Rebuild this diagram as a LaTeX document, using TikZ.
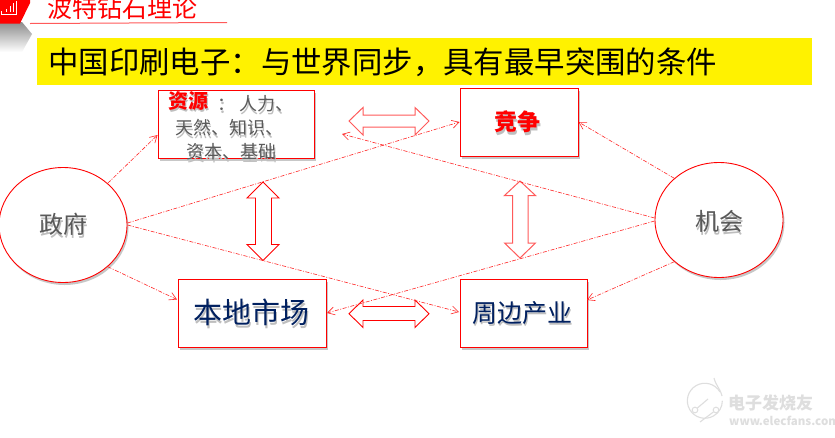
\documentclass[tikz,border=0pt]{standalone}
\usepackage{fontspec}
\setmainfont{Noto Sans CJK SC}
\usetikzlibrary{arrows.meta,shadows,fadings,calc}
\definecolor{rd}{RGB}{255,0,0}
\definecolor{lrd}{RGB}{255,90,90}
\definecolor{navy}{RGB}{0,32,96}
\definecolor{gtx}{RGB}{90,90,90}
\definecolor{shd}{RGB}{190,190,190}
\newcommand{\shtext}[1]{\leavevmode\rlap{\kern1.5pt\raisebox{-2.5pt}{\color{shd}#1}}#1}
\tikzset{
 x=1pt,y=-1pt,
 softshadow/.style={drop shadow={shadow xshift=1.5pt,shadow yshift=-2.5pt,fill=black,opacity=.22}},
 boxn/.style={draw=rd,line width=1pt,fill=white,softshadow,inner sep=0pt,anchor=north west},
 oval/.style={draw=rd,line width=.9pt,fill=white,ellipse shape,softshadow},
 ellipse shape/.style={shape=ellipse},
 link/.style={draw=rd!85,line width=.6pt,dash pattern=on 4pt off 1.5pt on 1pt off 1.5pt,-{Straight Barb[length=7pt,width=8pt,line width=.6pt]}},
 dbl/.style={draw=rd,line width=.9pt,fill=white,line join=miter},
 dbll/.style={draw=lrd,line width=1pt,fill=white,line join=miter}
}
\usetikzlibrary{shapes.geometric}
\begin{document}
\begin{tikzpicture}
\useasboundingbox (0,0) rectangle (835,437);
\fill[white] (0,0) rectangle (835,437);
% corner badge shadow
\shade[top color=black!45,bottom color=white,draw=none] (0,22) -- (22,22) -- (32,34) -- (22,52) -- (0,52) -- cycle;
\node[draw=none,fill=rd,inner sep=0pt,minimum size=0pt] (badge) at (0,0) {};
\fill[rd] (0,0) -- (30,0) -- (30,3) -- (20,23.5) -- (0,23.5) -- cycle;
\draw[white,line width=1pt] (1,11) -- (1,14) -- (16,14) -- (16,1);
\draw[white,line width=1pt] (6,9) -- (6,12) (10,6) -- (10,12) (13,3) -- (13,12);
% heading
\node[anchor=west,inner sep=0pt,text=rd,font=\fontsize{25}{25}\selectfont] (head) at (47,8) {波特钻石理论};
\coordinate (ula) at (30,23.5);
\coordinate (ulb) at (227,22.5);
\draw[lrd,line width=1pt] (ula) -- (ulb);
% yellow bar
\node[anchor=north west,fill=yellow,minimum width=775pt,minimum height=47pt,inner sep=0pt] (bar) at (37,38) {};
\node[anchor=west,inner sep=0pt,font=\fontsize{30.4}{30}\selectfont] (title) at (48,62) {中国印刷电子：与世界同步，具有最早突围的条件};
% boxes
\node[boxn,minimum width=156pt,minimum height=68pt] (res) at (157.5,89.5) {};
\node[boxn,minimum width=118pt,minimum height=68pt] (comp) at (459.5,87.5) {};
\node[boxn,minimum width=148pt,minimum height=68pt] (mkt) at (177.5,278.5) {};
\node[boxn,minimum width=127pt,minimum height=68pt] (sup) at (459.5,278.5) {};
% ovals
\node[oval,minimum width=128pt,minimum height=115pt,inner sep=0pt] (gov) at (63,225) {};
\node[oval,minimum width=128pt,minimum height=115pt,inner sep=0pt] (opp) at (719,220) {};
% box texts
\node[anchor=west,inner sep=0pt,font=\fontsize{20}{20}\bfseries\selectfont,text=rd] (t1a) at (168,102) {\shtext{资源}};
\node[anchor=west,inner sep=0pt,font=\fontsize{18}{18}\selectfont,text=gtx] (t1b) at (217,105) {\shtext{：\kern4pt 人力、}};
\node[anchor=west,inner sep=0pt,font=\fontsize{18}{18}\selectfont,text=gtx] (t2) at (175,129) {\shtext{天然、知识、}};
\node[anchor=west,inner sep=0pt,font=\fontsize{18}{18}\selectfont,text=gtx] (t3) at (186,153) {\shtext{资本、基础}};
\node[inner sep=0pt,font=\fontsize{23}{23}\bfseries\selectfont,text=rd] (t4) at (517,123) {\shtext{竞争}};
\node[inner sep=0pt,font=\fontsize{29}{29}\selectfont,text=navy] (t5) at (251,314) {\shtext{本地市场}};
\node[inner sep=0pt,font=\fontsize{25}{25}\selectfont,text=navy] (t6) at (522,314) {\shtext{周边产业}};
\node[inner sep=0pt,font=\fontsize{24}{24}\selectfont,text=gtx] (t7) at (63,226) {\shtext{政府}};
\node[inner sep=0pt,font=\fontsize{24}{24}\selectfont,text=gtx] (t8) at (719,223) {\shtext{机会}};
% double arrows
\draw[dbl] (263,182) -- (279,198) -- (271.5,198) -- (271.5,244.5) -- (279,244.5) -- (263,260.5) -- (247,244.5) -- (255.5,244.5) -- (255.5,198) -- (247,198) -- cycle;
\draw[dbll] (520,181) -- (535.5,195.5) -- (528,195.5) -- (528,243) -- (535.5,243) -- (520,258) -- (504.5,243) -- (512.5,243) -- (512.5,195.5) -- (504.5,195.5) -- cycle;
\draw[dbll] (349,121) -- (363,107.5) -- (363,115) -- (415,115) -- (415,107.5) -- (429,121) -- (415,135) -- (415,127) -- (363,127) -- (363,135) -- cycle;
\draw[dbl] (349,313.7) -- (363,300) -- (363,306.5) -- (415,306.5) -- (415,300) -- (429,313.7) -- (415,327.5) -- (415,320.5) -- (363,320.5) -- (363,327.5) -- cycle;
% connectors
\coordinate (f1) at (342,134);
\draw[link] (gov.43) -- (res.south west |- 0,135);
\draw[link] (gov.-43) -- (177,299.5);
\draw[link] (gov.east) ++(0,-2) -- (comp.west);
\draw[link] (gov.east) -- (459,312);
\draw[link] (opp.137) -- (comp.east);
\draw[link] (opp.-137) -- (587,300);
\draw[link] (opp.west) ++(0,-2) -- (f1);
\draw[link] (opp.west) ++(0,1) -- (327,313);
% watermark
\definecolor{wm}{RGB}{222,222,222}
\begin{scope}[wm,line width=1.1pt]
\draw (720,392) arc[start angle=-30,end angle=-360,radius=17.5];
\draw (714,378) .. controls (716,386) and (720,388) .. (722,396);
\node[draw=wm,circle,inner sep=2pt,line width=1pt] (wa) at (695,410) {};
\node[draw=wm,circle,inner sep=2pt,line width=1pt] (wb) at (716,410) {};
\draw (wa) -- (708,399);
\draw (wb) -- (700,422);
\end{scope}
\node[anchor=west,inner sep=0pt,text=wm,font=\fontsize{17}{17}\bfseries\selectfont] (w1) at (728,403) {电子发烧友};
\node[anchor=west,inner sep=0pt,text=wm,font=\fontsize{11.5}{12}\bfseries\selectfont] (w2) at (729,420.5) {www.elecfans.com};
\end{tikzpicture}
\end{document}
